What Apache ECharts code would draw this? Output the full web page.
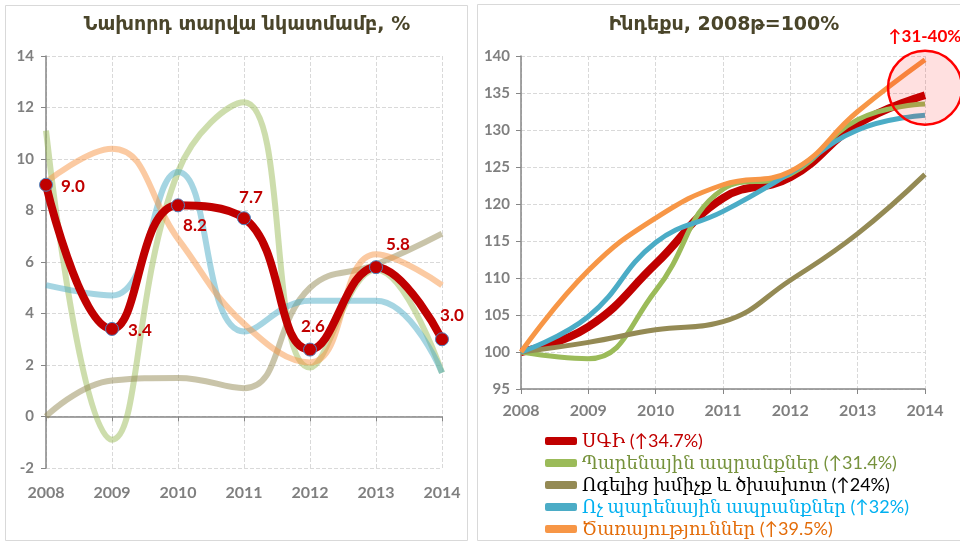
<!DOCTYPE html>
<html>
<head>
<meta charset="utf-8">
<script src="https://cdn.jsdelivr.net/npm/echarts@6/dist/echarts.min.js"></script>
<style>
html, body { margin: 0; padding: 0; background: #fff; }
#container { width: 960px; height: 542px; }
</style>
</head>
<body>
<div id="container"></div>
<script>
var years = ['2008', '2009', '2010', '2011', '2012', '2013', '2014'];
var names = ['ՍԳԻ (↑34.7%)', 'Պարենային ապրանքներ (↑31.4%)', 'Ոգելից խմիչք և ծխախոտ (↑24%)', 'Ոչ պարենային ապրանքներ (↑32%)', 'Ծառայություններ (↑39.5%)'];
var leftTicks = [-2, 14, 2];
var rightTicks = [95, 140, 5];

// նախորդ տարվա նկատմամբ, %
var cpiYoy = [9.0, 3.4, 8.2, 7.7, 2.6, 5.8, 3.0];
var foodYoy = [11.1, -0.9, 9.5, 12.2, 1.9, 5.7, 1.7];
var alcoYoy = [0.0, 1.4, 1.5, 1.1, 5.0, 5.9, 7.1];
var nonFoodYoy = [5.1, 4.7, 9.5, 3.3, 4.5, 4.5, 1.7];
var servYoy = [9.1, 10.4, 6.9, 3.6, 2.1, 6.3, 5.1];

// ինդեքս, 2008 = 100
var cpiIdx = [100, 103.4, 111.9, 120.8, 123.6, 130.8, 134.7];
var foodIdx = [100, 99.1, 108.3, 122.0, 124.0, 131.4, 133.5];
var alcoIdx = [100, 101.3, 103.0, 104.1, 109.7, 116.0, 124.0];
var nonFoodIdx = [100, 104.8, 114.8, 119.0, 124.2, 130.0, 132.0];
var servIdx = [100, 111.0, 118.1, 122.6, 124.4, 132.5, 139.5];

var circleNote = '↑31-40%';
var circleAt = ['2014', 135.7];

var colors = ['#c00000', '#9bbb59', '#948a54', '#4bacc6', '#f79646'];
var textColors = ['#c00000', '#76923c', '#000000', '#00b0f0', '#e36c09'];

// label placement of the red points (left chart)
var labelPlace = [
    ['right', [3, 2]], ['right', [4, 2]], ['bottom', [17, 0]], ['top', [7, 0]],
    ['top', [3, -3]], ['top', [22, -2]], ['top', [10, -3]]
];

var myChart = echarts.init(document.getElementById('container'));

var axisGray = '#7f7f7f';
var gridLine = { show: true, lineStyle: { color: '#d9d9d9', type: 'dashed', width: 1 } };
var numFont = 'Lato, "DejaVu Sans", sans-serif';
var titleFont = '"DejaVu Sans", sans-serif';
var legendFont = 'Lato, "DejaVu Serif", serif';

function faded(name, data, color) {
    return {
        name: name, type: 'line', xAxisIndex: 0, yAxisIndex: 0,
        data: data, smooth: 0.45, symbol: 'none', silent: true,
        lineStyle: { color: color, width: 6, opacity: 0.5 },
        itemStyle: { color: color }
    };
}

function idxLine(i, data, width) {
    return {
        name: names[i], type: 'line', xAxisIndex: 2, yAxisIndex: 1,
        data: data, smooth: 0.45, symbol: 'none', silent: true,
        lineStyle: { color: colors[i], width: width },
        itemStyle: { color: colors[i] }
    };
}

var redPoints = cpiYoy.map(function (v, i) {
    return {
        value: v,
        label: { position: labelPlace[i][0], offset: labelPlace[i][1] }
    };
});

var series = [
    idxLine(0, cpiIdx, 8),
    idxLine(1, foodIdx, 5),
    idxLine(2, alcoIdx, 5),
    idxLine(3, nonFoodIdx, 5),
    idxLine(4, servIdx, 5),
    faded('food', foodYoy, colors[1]),
    faded('alco', alcoYoy, colors[2]),
    faded('nonfood', nonFoodYoy, colors[3]),
    faded('serv', servYoy, colors[4]),
    {
        name: 'cpi', type: 'line', xAxisIndex: 0, yAxisIndex: 0,
        data: redPoints, smooth: 0.45, silent: true,
        symbol: 'circle', symbolSize: 13,
        lineStyle: { color: colors[0], width: 8 },
        itemStyle: { color: colors[0], borderColor: '#4f81bd', borderWidth: 1 },
        label: {
            show: true, color: '#c00000', fontWeight: 'bold', fontSize: 17,
            fontFamily: numFont, distance: 5,
            formatter: function (p) { return p.value.toFixed(1); }
        }
    }
];

series[0].markPoint = {
    silent: true,
    symbol: 'circle', symbolSize: 74,
    itemStyle: { color: 'rgba(255,0,0,0.12)', borderColor: '#ff0000', borderWidth: 2.5 },
    label: {
        show: true, position: 'top', distance: 5, formatter: circleNote,
        color: '#ff0000', fontWeight: 'bold', fontSize: 17, fontFamily: numFont
    },
    data: [{ coord: circleAt }]
};

option = {
    backgroundColor: '#ffffff',
    animation: false,
    title: [
        {
            text: 'Նախորդ տարվա նկատմամբ, %', left: 242, top: 11, textAlign: 'center',
            textStyle: { color: '#4a452a', fontSize: 19, fontWeight: 'bold', fontFamily: titleFont }
        },
        {
            text: 'Ինդեքս, 2008թ=100%', left: 719, top: 11, textAlign: 'center',
            textStyle: { color: '#4a452a', fontSize: 19, fontWeight: 'bold', fontFamily: titleFont }
        }
    ],
    graphic: [
        { type: 'rect', z: -10, shape: { x: 5.5, y: 5.5, width: 462, height: 535 },
          style: { fill: '#fff', stroke: '#d9d9d9', lineWidth: 1 } },
        { type: 'rect', z: -10, shape: { x: 477.5, y: 4.5, width: 484, height: 536 },
          style: { fill: '#fff', stroke: '#d9d9d9', lineWidth: 1 } }
    ],
    legend: {
        show: true, orient: 'vertical', left: 545, top: 432, height: 160, padding: 0,
        itemWidth: 32, itemHeight: 8, itemGap: 4, icon: 'roundRect',
        selectedMode: false,
        textStyle: { fontSize: 18, lineHeight: 17, fontFamily: legendFont, padding: [0, 0, 0, 0] },
        data: names.map(function (n, i) {
            return { name: n, itemStyle: { color: colors[i] }, textStyle: { color: textColors[i] } };
        })
    },
    grid: [
        { left: 46, right: 518, top: 56, bottom: 74 },
        { left: 521, right: 35, top: 56, bottom: 153 }
    ],
    xAxis: [
        {
            type: 'category', gridIndex: 0, data: years, boundaryGap: false, position: 'bottom',
            axisLine: { onZero: true, lineStyle: { color: '#868686', width: 1.5 } },
            axisTick: { show: true, inside: false, length: 5, lineStyle: { color: '#868686' } },
            axisLabel: { show: false },
            splitLine: gridLine
        },
        {
            type: 'category', gridIndex: 0, data: years, boundaryGap: false, position: 'bottom',
            axisLine: { show: false, onZero: false },
            axisTick: { show: false },
            axisLabel: { margin: 17, color: axisGray, fontSize: 16, fontWeight: 'bold', fontFamily: numFont },
            splitLine: { show: false }
        },
        {
            type: 'category', gridIndex: 1, data: years, boundaryGap: false, position: 'bottom',
            axisLine: { onZero: false, lineStyle: { color: '#868686', width: 1.5 } },
            axisTick: { show: true, length: 5, lineStyle: { color: '#868686' } },
            axisLabel: { margin: 14, color: axisGray, fontSize: 16, fontWeight: 'bold', fontFamily: numFont },
            splitLine: gridLine
        }
    ],
    yAxis: [
        {
            type: 'value', gridIndex: 0, min: leftTicks[0], max: leftTicks[1], interval: leftTicks[2],
            axisLine: { show: true, lineStyle: { color: '#868686', width: 1.5 } },
            axisTick: { show: true, length: 5, lineStyle: { color: '#868686' } },
            axisLabel: { margin: 12, color: axisGray, fontSize: 15, fontWeight: 'bold', fontFamily: numFont },
            splitLine: gridLine
        },
        {
            type: 'value', gridIndex: 1, min: rightTicks[0], max: rightTicks[1], interval: rightTicks[2],
            axisLine: { show: true, lineStyle: { color: '#868686', width: 1.5 } },
            axisTick: { show: true, length: 5, lineStyle: { color: '#868686' } },
            axisLabel: { margin: 11, color: axisGray, fontSize: 15, fontWeight: 'bold', fontFamily: numFont },
            splitLine: gridLine
        }
    ],
    series: series
};

myChart.setOption(option);
</script>
</body>
</html>
